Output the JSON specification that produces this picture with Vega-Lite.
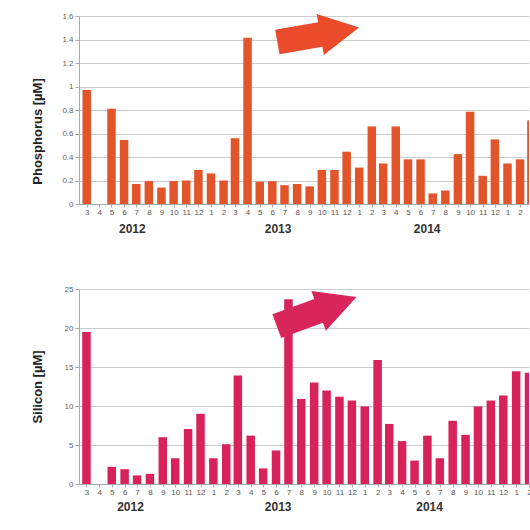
{
  "$schema": "https://vega.github.io/schema/vega-lite/v6.json",
  "padding": {"left": 31, "top": 12, "right": 0, "bottom": 0},
  "spacing": 51,
  "config": {
    "view": {"stroke": null},
    "font": "Liberation Sans",
    "axis": {"labelFont": "Liberation Sans", "titleFont": "Liberation Sans"}
  },
  "data": {
    "values": [
      {"date": "2012-03-01", "P": 0.97, "Si": 19.5},
      {"date": "2012-04-01", "P": null, "Si": null},
      {"date": "2012-05-01", "P": 0.81, "Si": 2.2},
      {"date": "2012-06-01", "P": 0.545, "Si": 1.9},
      {"date": "2012-07-01", "P": 0.17, "Si": 1.1},
      {"date": "2012-08-01", "P": 0.195, "Si": 1.3},
      {"date": "2012-09-01", "P": 0.14, "Si": 6.0},
      {"date": "2012-10-01", "P": 0.195, "Si": 3.3},
      {"date": "2012-11-01", "P": 0.2, "Si": 7.05},
      {"date": "2012-12-01", "P": 0.29, "Si": 9.0},
      {"date": "2013-01-01", "P": 0.26, "Si": 3.3},
      {"date": "2013-02-01", "P": 0.2, "Si": 5.1},
      {"date": "2013-03-01", "P": 0.56, "Si": 13.9},
      {"date": "2013-04-01", "P": 1.415, "Si": 6.2},
      {"date": "2013-05-01", "P": 0.19, "Si": 2.0},
      {"date": "2013-06-01", "P": 0.195, "Si": 4.3},
      {"date": "2013-07-01", "P": 0.16, "Si": 23.7},
      {"date": "2013-08-01", "P": 0.17, "Si": 10.9},
      {"date": "2013-09-01", "P": 0.15, "Si": 13.0},
      {"date": "2013-10-01", "P": 0.29, "Si": 12.0},
      {"date": "2013-11-01", "P": 0.29, "Si": 11.2},
      {"date": "2013-12-01", "P": 0.445, "Si": 10.7},
      {"date": "2014-01-01", "P": 0.31, "Si": 9.95},
      {"date": "2014-02-01", "P": 0.66, "Si": 15.9},
      {"date": "2014-03-01", "P": 0.345, "Si": 7.7},
      {"date": "2014-04-01", "P": 0.66, "Si": 5.5},
      {"date": "2014-05-01", "P": 0.38, "Si": 3.0},
      {"date": "2014-06-01", "P": 0.38, "Si": 6.2},
      {"date": "2014-07-01", "P": 0.09, "Si": 3.3},
      {"date": "2014-08-01", "P": 0.115, "Si": 8.1},
      {"date": "2014-09-01", "P": 0.425, "Si": 6.3},
      {"date": "2014-10-01", "P": 0.785, "Si": 9.95},
      {"date": "2014-11-01", "P": 0.24, "Si": 10.7},
      {"date": "2014-12-01", "P": 0.55, "Si": 11.35},
      {"date": "2015-01-01", "P": 0.345, "Si": 14.45},
      {"date": "2015-02-01", "P": 0.38, "Si": 14.25},
      {"date": "2015-03-01", "P": 0.71, "Si": null}
    ]
  },
  "vconcat": [
    {
      "width": 450,
      "height": 188,
      "layer": [
        {
          "mark": {"type": "bar", "color": "#E2552A", "width": 8.5, "clip": true},
          "encoding": {
            "x": {
              "field": "date", "type": "temporal",
              "scale": {"type": "utc", "nice": false, "padding": 0, "domain": [{"year": 2012, "month": 2, "date": 11, "utc": true}, {"year": 2015, "month": 2, "date": 23, "utc": true}]},
              "axis": {"title": null, "grid": false, "tickCount": {"interval": "month", "step": 1}, "format": "%-m", "labelFontSize": 8, "labelColor": "#555", "tickSize": 3, "tickColor": "#aaa", "domainColor": "#aaa", "labelPadding": 1, "labelOverlap": false, "labelFlush": false, "labelBound": true}
            },
            "y": {
              "field": "P", "type": "quantitative",
              "scale": {"domain": [0, 1.6], "nice": false},
              "axis": {"title": "Phosphorus [µM]", "values": [0, 0.2, 0.4, 0.6, 0.8, 1, 1.2, 1.4, 1.6], "format": "~g", "grid": true, "gridColor": "#cccccc", "domainColor": "#aaa", "tickSize": 4, "tickColor": "#aaa", "labelFontSize": 8, "labelColor": "#666", "labelPadding": 2, "labelOverlap": false, "minExtent": 20, "maxExtent": 20, "titleFontSize": 13, "titleFontWeight": "bold", "titleColor": "#222", "titlePadding": 15, "titleY": 115}
            }
          }
        },
        {
          "mark": {"type": "tick", "opacity": 0},
          "encoding": {
            "x": {
              "field": "date", "type": "temporal",
              "scale": {"type": "utc", "nice": false, "padding": 0, "domain": [{"year": 2012, "month": 2, "date": 11, "utc": true}, {"year": 2015, "month": 2, "date": 23, "utc": true}]},
              "axis": {"orient": "bottom", "title": null, "grid": false, "domain": false, "ticks": false, "tickSize": 0, "labelPadding": 19, "values": [{"year": 2012, "month": 6, "date": 20, "utc": true}, {"year": 2013, "month": 6, "date": 14, "utc": true}, {"year": 2014, "month": 6, "date": 16, "utc": true}], "format": "%Y", "labelFontSize": 12, "labelFontWeight": "bold", "labelColor": "#333", "labelOverlap": false, "labelFlush": false}
            }
          }
        },
        {
          "data": {"values": [{"date": "2013-09-22", "P": 1.44}]},
          "mark": {"type": "point", "shape": "M -1 -0.3 L 0.05 -0.3 L 0.05 -0.5 L 1 0 L 0.05 0.5 L 0.05 0.3 L -1 0.3 Z", "filled": true, "size": 6900, "angle": -10, "color": "#EA4B2A", "opacity": 1},
          "encoding": {
            "x": {
              "field": "date", "type": "temporal", "axis": null,
              "scale": {"type": "utc", "nice": false, "padding": 0, "domain": [{"year": 2012, "month": 2, "date": 11, "utc": true}, {"year": 2015, "month": 2, "date": 23, "utc": true}]}
            },
            "y": {
              "field": "P", "type": "quantitative",
              "axis": {"title": "Phosphorus [µM]", "values": [0, 0.2, 0.4, 0.6, 0.8, 1, 1.2, 1.4, 1.6], "format": "~g", "grid": true, "gridColor": "#cccccc", "domainColor": "#aaa", "tickSize": 4, "tickColor": "#aaa", "labelFontSize": 8, "labelColor": "#666", "labelPadding": 2, "labelOverlap": false, "minExtent": 20, "maxExtent": 20, "titleFontSize": 13, "titleFontWeight": "bold", "titleColor": "#222", "titlePadding": 15, "titleY": 115}
            }
          }
        }
      ],
      "resolve": {"axis": {"x": "independent"}}
    },
    {
      "width": 450,
      "height": 195,
      "layer": [
        {
          "mark": {"type": "bar", "color": "#D8225A", "width": 8.5, "clip": true},
          "encoding": {
            "x": {
              "field": "date", "type": "temporal",
              "scale": {"type": "utc", "nice": false, "padding": 0, "domain": [{"year": 2012, "month": 2, "date": 12, "utc": true}, {"year": 2015, "month": 2, "date": 1, "utc": true}]},
              "axis": {"title": null, "grid": false, "tickCount": {"interval": "month", "step": 1}, "format": "%-m", "labelFontSize": 8, "labelColor": "#555", "tickSize": 3, "tickColor": "#aaa", "domainColor": "#aaa", "labelPadding": 1, "labelOverlap": false, "labelFlush": false, "labelBound": true}
            },
            "y": {
              "field": "Si", "type": "quantitative",
              "scale": {"domain": [0, 25], "nice": false},
              "axis": {"title": "Silicon [µM]", "values": [0, 5, 10, 15, 20, 25], "format": "~g", "grid": true, "gridColor": "#cccccc", "domainColor": "#aaa", "tickSize": 4, "tickColor": "#aaa", "labelFontSize": 8, "labelColor": "#666", "labelPadding": 2, "labelOverlap": false, "minExtent": 20, "maxExtent": 20, "titleFontSize": 13, "titleFontWeight": "bold", "titleColor": "#222", "titlePadding": 15}
            }
          }
        },
        {
          "mark": {"type": "tick", "opacity": 0},
          "encoding": {
            "x": {
              "field": "date", "type": "temporal",
              "scale": {"type": "utc", "nice": false, "padding": 0, "domain": [{"year": 2012, "month": 2, "date": 12, "utc": true}, {"year": 2015, "month": 2, "date": 1, "utc": true}]},
              "axis": {"orient": "bottom", "title": null, "grid": false, "domain": false, "ticks": false, "tickSize": 0, "labelPadding": 17, "values": [{"year": 2012, "month": 6, "date": 14, "utc": true}, {"year": 2013, "month": 6, "date": 5, "utc": true}, {"year": 2014, "month": 6, "date": 5, "utc": true}], "format": "%Y", "labelFontSize": 12, "labelFontWeight": "bold", "labelColor": "#333", "labelOverlap": false, "labelFlush": false}
            }
          }
        },
        {
          "data": {"values": [{"date": "2013-09-07", "Si": 22.1}]},
          "mark": {"type": "point", "shape": "M -1 -0.3 L 0.05 -0.3 L 0.05 -0.5 L 1 0 L 0.05 0.5 L 0.05 0.3 L -1 0.3 Z", "filled": true, "size": 7200, "angle": -20, "color": "#D8265A", "opacity": 1},
          "encoding": {
            "x": {
              "field": "date", "type": "temporal", "axis": null,
              "scale": {"type": "utc", "nice": false, "padding": 0, "domain": [{"year": 2012, "month": 2, "date": 12, "utc": true}, {"year": 2015, "month": 2, "date": 1, "utc": true}]}
            },
            "y": {
              "field": "Si", "type": "quantitative",
              "axis": {"title": "Silicon [µM]", "values": [0, 5, 10, 15, 20, 25], "format": "~g", "grid": true, "gridColor": "#cccccc", "domainColor": "#aaa", "tickSize": 4, "tickColor": "#aaa", "labelFontSize": 8, "labelColor": "#666", "labelPadding": 2, "labelOverlap": false, "minExtent": 20, "maxExtent": 20, "titleFontSize": 13, "titleFontWeight": "bold", "titleColor": "#222", "titlePadding": 15}
            }
          }
        }
      ],
      "resolve": {"axis": {"x": "independent"}}
    }
  ]
}
